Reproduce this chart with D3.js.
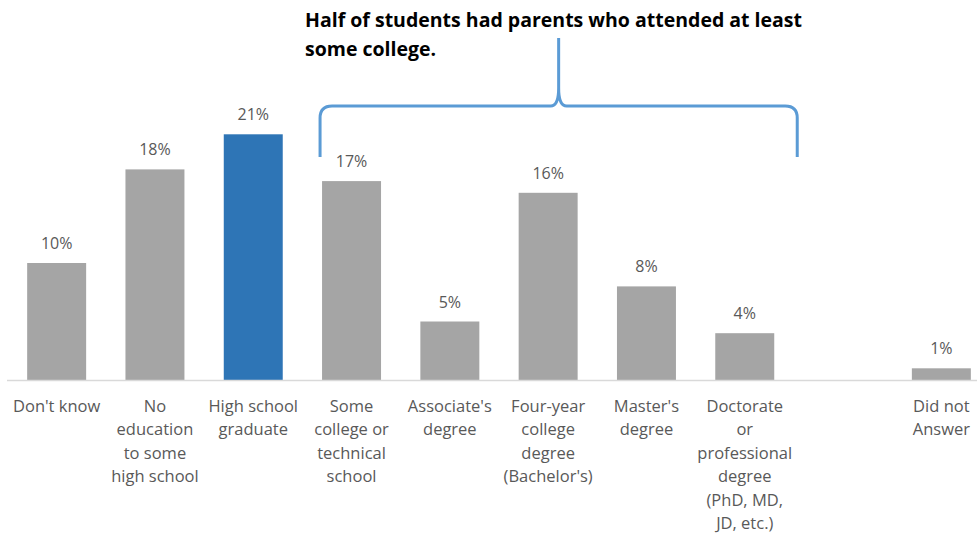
<!DOCTYPE html>
<html>
<head>
<meta charset="utf-8">
<script src="https://cdn.jsdelivr.net/npm/d3@7"></script>
<style>
  html, body { margin: 0; padding: 0; background: #ffffff; }
  svg { display: block; }
</style>
</head>
<body>
<svg id="chart" width="977" height="538"></svg>
<script>
// Parents' highest education level (share of students)
const categories = [
  "Don't know",
  "No\neducation\nto some\nhigh school",
  "High school\ngraduate",
  "Some\ncollege or\ntechnical\nschool",
  "Associate's\ndegree",
  "Four-year\ncollege\ndegree\n(Bachelor's)",
  "Master's\ndegree",
  "Doctorate\nor\nprofessional\ndegree\n(PhD, MD,\nJD, etc.)",
  "",
  "Did not\nAnswer"
];
const values = [10, 18, 21, 17, 5, 16, 8, 4, null, 1];
const highlighted = ["High school\ngraduate"];
const bracketFrom = "Some\ncollege or\ntechnical\nschool";
const bracketTo = "Doctorate\nor\nprofessional\ndegree\n(PhD, MD,\nJD, etc.)";
const noteLines = [
  "Half of students had parents who attended at least",
  "some college."
];

const svg = d3.select("#chart");
const baseY = 380;
const font = "'Open Sans', Lato, sans-serif";

const x = d3.scaleBand()
  .domain(categories)
  .range([7.5, 990.5])
  .paddingInner(0.4)
  .paddingOuter(0.2);

const y = d3.scaleLinear().domain([0, 25]).range([baseY, baseY - 292.5]);

const rows = categories.map((c, i) => ({ cat: c, value: values[i] })).filter(d => d.value != null);

// Bars
svg.append("g").selectAll("rect")
  .data(rows)
  .join("rect")
  .attr("x", d => x(d.cat))
  .attr("width", x.bandwidth())
  .attr("y", d => y(d.value))
  .attr("height", d => y(0) - y(d.value))
  .attr("fill", d => highlighted.includes(d.cat) ? "#2e75b6" : "#a5a5a5");

// Baseline
svg.append("line")
  .attr("x1", 7).attr("x2", 977)
  .attr("y1", baseY + 0.5).attr("y2", baseY + 0.5)
  .attr("stroke", "#d9d9d9").attr("stroke-width", 1.5);

// Value labels
svg.append("g").selectAll("text")
  .data(rows)
  .join("text")
  .attr("x", d => x(d.cat) + x.bandwidth() / 2)
  .attr("y", d => y(d.value) - 14)
  .attr("text-anchor", "middle")
  .attr("font-family", font)
  .attr("font-size", 16)
  .attr("fill", "#595959")
  .text(d => d.value + "%");

// Category labels (multi-line)
const catG = svg.append("g").selectAll("text")
  .data(categories.filter(c => c !== ""))
  .join("text")
  .attr("text-anchor", "middle")
  .attr("font-family", font)
  .attr("font-size", 16.5)
  .attr("fill", "#595959");
catG.each(function (c) {
  const t = d3.select(this);
  const cx = x(c) + x.bandwidth() / 2;
  c.split("\n").forEach((line, i) => {
    t.append("tspan").attr("x", cx).attr("y", baseY + 32 + i * 23.4).text(line);
  });
});

// Curly bracket over the college-level categories
const bx0 = x(bracketFrom) - 2;
const bx1 = x(bracketTo) + x.bandwidth() + 23;
const bmid = (bx0 + bx1) / 2;
const bBottom = 157, bTop = 106, bTip = 88, bStem = 38, r = 12;
const p = d3.path();
p.moveTo(bx0, bBottom);
p.lineTo(bx0, bTop + r);
p.quadraticCurveTo(bx0, bTop, bx0 + r, bTop);
p.lineTo(bmid - 8, bTop);
p.quadraticCurveTo(bmid, bTop, bmid, bTip);
p.lineTo(bmid, bStem);
p.moveTo(bmid, bTip);
p.quadraticCurveTo(bmid, bTop, bmid + 8, bTop);
p.lineTo(bx1 - r, bTop);
p.quadraticCurveTo(bx1, bTop, bx1, bTop + r);
p.lineTo(bx1, bBottom);
svg.append("path")
  .attr("d", p.toString())
  .attr("fill", "none")
  .attr("stroke", "#5b9bd5")
  .attr("stroke-width", 3);

// Annotation text
svg.append("g").selectAll("text")
  .data(noteLines)
  .join("text")
  .attr("x", 305)
  .attr("y", (d, i) => 27 + i * 29)
  .attr("font-family", font)
  .attr("font-weight", "bold")
  .attr("font-size", 19.5)
  .attr("fill", "#000000")
  .text(d => d);
</script>
</body>
</html>
